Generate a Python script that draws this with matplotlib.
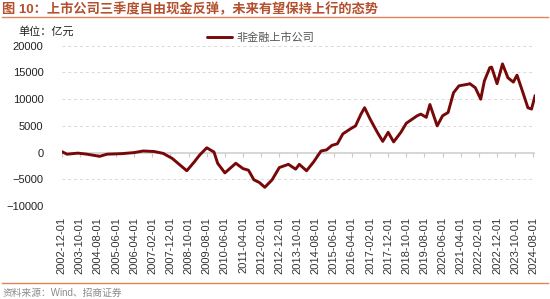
import matplotlib
matplotlib.use('Agg')
import matplotlib.pyplot as plt
import pandas as pd

plt.rcParams['font.family'] = ['Liberation Sans', 'Noto Sans CJK SC', 'DejaVu Sans']

# 非金融上市公司 自由现金流 (亿元)
dates = ['2002-12', '2003-03', '2003-09', '2004-02', '2004-09', '2005-01', '2005-09',
         '2006-04', '2006-09', '2007-03', '2007-08', '2008-01', '2008-09', '2009-01',
         '2009-04', '2009-08', '2009-12', '2010-02', '2010-06', '2010-12', '2011-04',
         '2011-07', '2011-10', '2012-01', '2012-04', '2012-08', '2012-12', '2013-05',
         '2013-09', '2013-11', '2014-03', '2014-07', '2014-11', '2015-02', '2015-05',
         '2015-08', '2015-11', '2016-03', '2016-06', '2016-09', '2016-11', '2017-02',
         '2017-06', '2017-09', '2017-12', '2018-03', '2018-07', '2018-10', '2019-04',
         '2019-06', '2019-09', '2019-11', '2020-03', '2020-06', '2020-09', '2020-12',
         '2021-03', '2021-08', '2021-09', '2021-12', '2022-03', '2022-05', '2022-08',
         '2022-09', '2022-12', '2023-03', '2023-06', '2023-09', '2023-11', '2024-02',
         '2024-05', '2024-07', '2024-09']
fcf = [200, -300, -100, -300, -700, -300, -200,
       0, 300, 200, -150, -1100, -3400, -1800,
       -500, 900, 100, -2000, -3800, -2000, -3000,
       -3300, -5100, -5600, -6500, -5100, -2800, -2200,
       -3100, -2200, -3400, -1700, 300, 500, 1350,
       1650, 3500, 4400, 5000, 7200, 8400, 6300,
       3800, 2100, 3800, 2000, 3800, 5500, 6900,
       7200, 6600, 9000, 5000, 6900, 7500, 11200,
       12500, 12800, 12900, 12150, 10000, 13400, 15900,
       16000, 12900, 16600, 14000, 13200, 14500, 11500,
       8400, 8150, 10700]

start = pd.Period('2002-12', freq='M')
months = [(pd.Period(d, freq='M') - start).n for d in dates]

tick_months = list(range(0, 261, 10))
tick_labels = [(start + m).strftime('%Y-%m-01') for m in tick_months]

fig = plt.figure(figsize=(5.5, 2.99), dpi=100)
ax = fig.add_axes([0.112, 0.311, 0.861, 0.536])

ax.plot(months, fcf, color='#770808', lw=2.1, solid_joinstyle='round',
        solid_capstyle='round', label='非金融上市公司', zorder=3)

ax.set_xlim(0, 261)
ax.set_ylim(-10000, 20000)
ax.set_yticks(range(-10000, 20001, 5000))
for yv in range(-10000, 20001, 5000):
    if yv == 0:
        ax.axhline(0, color='#d0d0d0', lw=1.2, zorder=1)
    else:
        ax.axhline(yv, color='#d9d9d9', lw=0.7, ls=(0, (3, 3)), zorder=1)

for s in ax.spines.values():
    s.set_visible(False)
ax.tick_params(axis='y', length=0, labelsize=8, colors='#222222', pad=13)
ax.set_xticks(tick_months)
ax.set_xticklabels(tick_labels, rotation=90, fontsize=8, color='#333333')
ax.tick_params(axis='x', length=0, pad=8)

# small tick marks on the zero line
sec = ax.secondary_xaxis(1 / 3)
sec.set_xticks(tick_months)
sec.tick_params(axis='x', direction='out', length=3, color='#c8c8c8', labelbottom=False,
                labeltop=False, top=False, bottom=True)
sec.spines['bottom'].set_visible(False)
sec.spines['top'].set_visible(False)
sec.set_xticklabels([])

fig.legend(loc='center left', bbox_to_anchor=(0.376, 0.875), frameon=False,
           fontsize=8, handlelength=2.3, handletextpad=0.4, borderpad=0,
           borderaxespad=0, labelcolor='#555555')

fig.text(0.033, 0.896, '单位：亿元', fontsize=8, color='#222222', va='center')

fig.text(0.004, 0.967, '图 10：上市公司三季度自由现金反弹，未来有望保持上行的态势',
         fontsize=9.5, color='#b4502e', fontweight='bold', va='center')
fig.add_artist(plt.Line2D([0.004, 0.996], [0.944, 0.944], color='#e0845a', lw=1.0))
fig.add_artist(plt.Line2D([0.004, 0.996], [0.052, 0.052], color='#e0845a', lw=1.0))
fig.text(0.004, 0.022, '资料来源：Wind、招商证券', fontsize=7, color='#8c8c8c', va='center')

fig.savefig('out.png', dpi=100)
